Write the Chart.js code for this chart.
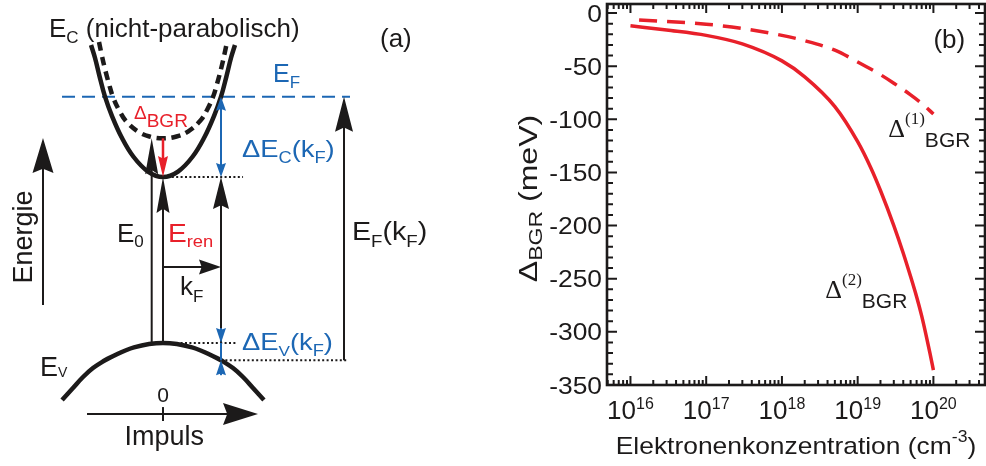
<!DOCTYPE html>
<html>
<head>
<meta charset="utf-8">
<script src="https://cdn.jsdelivr.net/npm/chart.js@4.4.1/dist/chart.umd.min.js"></script>
<style>
  html, body { margin: 0; padding: 0; background: #fff; }
  #wrap { position: relative; width: 986px; height: 466px; overflow: hidden; }
  #boxA { position: absolute; left: 0; top: 0; width: 480px; height: 466px; }
  #boxB { position: absolute; left: 480px; top: 0; width: 506px; height: 466px; }
</style>
</head>
<body>
<div id="wrap">
  <div id="boxA"><canvas id="bandChart"></canvas></div>
  <div id="boxB"><canvas id="bgrChart"></canvas></div>
</div>
<script>
const SANS = '"Liberation Sans", Arial, Helvetica, sans-serif';
const SERIF = '"Liberation Serif", "Times New Roman", serif';
const INK = '#1c1a1a';
const RED = '#e8202a';
const BLUE = '#1c67b4';

// ---- panel (a): band scheme, k in units of k_F, E in units of E_ren ----
const ecRenK = [0, 0.259, 0.509, 0.716, 0.879, 1.0, 1.095, 1.172, 1.241];
const ecRenE = [1.0, 1.033, 1.122, 1.241, 1.367, 1.484, 1.608, 1.717, 1.795];
const ecBareK = [0, 0.233, 0.431, 0.638, 0.759, 0.862, 0.931, 1.009, 1.060, 1.103];
const ecBareE = [1.233, 1.244, 1.274, 1.337, 1.404, 1.482, 1.560, 1.663, 1.741, 1.813];
const evK = [0, 0.5, 0.914, 1.0, 1.207, 1.379, 1.552, 1.74];
const evE = [0, -0.026, -0.088, -0.104, -0.151, -0.205, -0.271, -0.343];

const kF = 1.0;
const E_ren = 1.0;      // renormalised gap
const E_0 = 1.233;      // unrenormalised gap
const E_F = 1.484;      // Fermi level
const E_VkF = -0.104;   // valence band at k_F

// ---- panel (b): band-gap renormalisation vs. electron density ----
const bgr2N = [1e16, 3e16, 1e17, 3e17, 1e18, 2e18, 5e18, 1e19, 1.5e19, 2e19, 3e19, 4e19, 5e19, 6e19, 7e19, 8e19, 9e19, 1e20];
const bgr2Shift = [-12, -16, -21, -29, -45, -60, -88, -121, -146, -167, -200, -226, -248, -267, -285, -303, -320, -336];
const bgr1N = [1.3e16, 1e17, 3e17, 1e18, 2e18, 5e18, 1e19, 2e19, 3e19, 5e19, 7e19, 1e20];
const bgr1Shift = [-6.6, -10.5, -14.5, -21, -26, -35, -46, -58, -66, -77, -85, -95];
const decadeExps = [16, 17, 18, 19, 20];
const shiftLabels = [0, -50, -100, -150, -200, -250, -300, -350];

Chart.defaults.font.family = SANS;
Chart.defaults.color = INK;

function mirror(ks, es) {
  const pts = [];
  for (let i = ks.length - 1; i > 0; i--) pts.push({x: -ks[i], y: es[i]});
  ks.forEach((k, i) => pts.push({x: k, y: es[i]}));
  return pts;
}
function seg(x0, y0, x1, y1) { return [{x: x0, y: y0}, {x: x1, y: y1}]; }

// text made of runs: [text, size, dy, serif]; sx widens the glyphs
function rich(ctx, x, y, parts, color, align, sx) {
  sx = sx || 1;
  let w = 0;
  parts.forEach(p => { ctx.font = p[1] + 'px ' + (p[3] ? SERIF : SANS); w += ctx.measureText(p[0]).width * sx; });
  let cx = align === 'center' ? x - w / 2 : (align === 'right' ? x - w : x);
  ctx.fillStyle = color;
  ctx.textAlign = 'left';
  ctx.textBaseline = 'alphabetic';
  parts.forEach(p => {
    ctx.font = p[1] + 'px ' + (p[3] ? SERIF : SANS);
    ctx.save();
    ctx.translate(cx, y + (p[2] || 0));
    ctx.scale(sx, 1);
    ctx.fillText(p[0], 0, 0);
    ctx.restore();
    cx += ctx.measureText(p[0]).width * sx;
  });
  return w;
}

function head(ctx, tx, ty, dx, dy, len, wid, color) {
  const n = Math.hypot(dx, dy); dx /= n; dy /= n;
  const bx = tx - dx * len, by = ty - dy * len;
  const nx = -dy, ny = dx;
  ctx.fillStyle = color;
  ctx.beginPath();
  ctx.moveTo(tx, ty);
  ctx.lineTo(bx + nx * wid / 2, by + ny * wid / 2);
  ctx.lineTo(tx - dx * len * 0.88, ty - dy * len * 0.88);
  ctx.lineTo(bx - nx * wid / 2, by - ny * wid / 2);
  ctx.closePath();
  ctx.fill();
}

// arrows of panel (a): from, to (in k/E), colour, line width, head length, head width, both ends
const bandArrows = [
  {from: [-2.069, 0.229], to: [-2.069, 1.235], c: INK, lw: 2, hl: 35, hw: 21},
  {from: [-0.195, 0], to: [-0.195, E_0], c: INK, lw: 2, hl: 36, hw: 13},
  {from: [0, 0], to: [0, E_ren], c: INK, lw: 2, hl: 36, hw: 13},
  {from: [kF, 0], to: [kF, E_ren], c: INK, lw: 2, hl: 32, hw: 16},
  {from: [3.121, E_VkF], to: [3.121, E_F], c: INK, lw: 2, hl: 35, hw: 18},
  {from: [0, 0.458], to: [kF, 0.458], c: INK, lw: 2, hl: 22, hw: 15},
  {from: [-1.31, -0.428], to: [1.638, -0.428], c: INK, lw: 2, hl: 35, hw: 22},
  {from: [0, E_0], to: [0, E_ren], c: RED, lw: 2.5, hl: 21, hw: 10},
  {from: [kF, E_ren], to: [kF, E_F], c: BLUE, lw: 2, hl: 14, hw: 10, both: true},
  {from: [kF, 0.09], to: [kF, 0], c: BLUE, lw: 2, hl: 15, hw: 10},
  {from: [kF, E_VkF - 0.09], to: [kF, E_VkF], c: BLUE, lw: 2, hl: 15, hw: 10}
];

const bandLabels = [
  {at: [-1.966, 1.843], c: INK, parts: [['E', 26], ['C', 17, 6], [' (nicht-parabolisch)', 26]]},
  {at: [3.741, 1.786], c: INK, parts: [['(a)', 26]]},
  {at: [1.897, 1.572], c: BLUE, parts: [['E', 25], ['F', 17, 6]]},
  {at: [-0.5, 1.352], c: RED, parts: [['\u0394', 19], ['BGR', 19, 8]]},
  {at: [1.362, 1.120], c: BLUE, parts: [['\u0394E', 24], ['C', 16, 6], ['(k', 24], ['F', 16, 6], [')', 24]], sx: 1.14},
  {at: [1.362, -0.042], c: BLUE, parts: [['\u0394E', 24], ['V', 15, 6], ['(k', 24], ['F', 16, 6], [')', 24]], sx: 1.14},
  {at: [3.259, 0.620], c: INK, parts: [['E', 26], ['F', 17, 7], ['(k', 26], ['F', 17, 7], [')', 26]], sx: 1.1},
  {at: [-0.793, 0.608], c: INK, parts: [['E', 26], ['0', 17, 5]]},
  {at: [0.086, 0.608], c: RED, parts: [['E', 26], ['ren', 17, 5]], sx: 1.08},
  {at: [0.293, 0.289], c: INK, parts: [['k', 26], ['F', 17, 7]]},
  {at: [-2.121, -0.199], c: INK, parts: [['E', 27], ['V', 14, 1]]},
  {at: [0, -0.355], c: INK, parts: [['0', 21]], align: 'center'},
  {at: [0.02, -0.614], c: INK, parts: [['Impuls', 27]], align: 'center'}
];

const bandOverlay = {
  id: 'bandOverlay',
  afterDatasetsDraw(chart) {
    const {ctx, scales: {x, y}} = chart;
    const px = k => x.getPixelForValue(k), py = e => y.getPixelForValue(e);
    ctx.save();
    bandArrows.forEach(a => {
      const x0 = px(a.from[0]), y0 = py(a.from[1]), x1 = px(a.to[0]), y1 = py(a.to[1]);
      const dx = x1 - x0, dy = y1 - y0, n = Math.hypot(dx, dy);
      const sh = a.hl * 0.6 / n;
      ctx.strokeStyle = a.c; ctx.lineWidth = a.lw; ctx.lineCap = 'butt';
      ctx.beginPath();
      ctx.moveTo(a.both ? x0 + dx * sh : x0, a.both ? y0 + dy * sh : y0);
      ctx.lineTo(x1 - dx * sh, y1 - dy * sh);
      ctx.stroke();
      head(ctx, x1, y1, dx, dy, a.hl, a.hw, a.c);
      if (a.both) head(ctx, x0, y0, -dx, -dy, a.hl, a.hw, a.c);
    });
    // ΔE_V span between the two inward heads
    ctx.strokeStyle = BLUE; ctx.lineWidth = 2;
    ctx.beginPath(); ctx.moveTo(px(kF), py(0)); ctx.lineTo(px(kF), py(E_VkF)); ctx.stroke();
    // zero mark on the momentum axis
    ctx.strokeStyle = INK; ctx.lineWidth = 2;
    ctx.beginPath(); ctx.moveTo(px(0), py(-0.386)); ctx.lineTo(px(0), py(-0.470)); ctx.stroke();

    bandLabels.forEach(l => rich(ctx, px(l.at[0]), py(l.at[1]), l.parts, l.c, l.align, l.sx));
    ctx.translate(px(-2.259), py(0.639));
    ctx.rotate(-Math.PI / 2);
    rich(ctx, 0, 0, [['Energie', 27]], INK, 'center');
    ctx.restore();
  }
};

const curve = {showLine: true, pointRadius: 0, borderColor: INK, borderWidth: 4.5, tension: 0.4, fill: false};
const straight = {showLine: true, pointRadius: 0, tension: 0, fill: false};

new Chart(document.getElementById('bandChart'), {
  type: 'scatter',
  data: {
    datasets: [
      {...curve, data: mirror(ecBareK, ecBareE), borderDash: [9, 6]},
      {...curve, data: mirror(ecRenK, ecRenE)},
      {...curve, data: mirror(evK, evE)},
      {...straight, data: seg(-1.741, E_F, 3.224, E_F), borderColor: BLUE, borderWidth: 2, borderDash: [13, 7]},
      {...straight, data: seg(0, E_ren, 1.38, E_ren), borderColor: INK, borderWidth: 2, borderDash: [2, 2.4]},
      {...straight, data: seg(0, 0, 1.28, 0), borderColor: INK, borderWidth: 2, borderDash: [2, 2.4]},
      {...straight, data: seg(kF, E_VkF, 3.19, E_VkF), borderColor: INK, borderWidth: 2, borderDash: [2, 2.4]}
    ]
  },
  options: {
    responsive: true, maintainAspectRatio: false, animation: false, devicePixelRatio: 1,
    layout: {padding: 0},
    plugins: {legend: {display: false}, tooltip: {enabled: false}},
    scales: {
      x: {type: 'linear', display: false, min: -2.8103, max: 5.4655},
      y: {type: 'linear', display: false, min: -0.741, max: 2.0663}
    }
  },
  plugins: [bandOverlay]
});

// ---- panel (b) ----
const bgrFrame = {
  id: 'bgrFrame',
  afterDraw(chart) {
    const {ctx, chartArea: a, scales: {x, y}} = chart;
    ctx.save();
    ctx.strokeStyle = INK; ctx.lineWidth = 2;
    ctx.beginPath();
    x.ticks.forEach(t => {
      const p = x.getPixelForValue(t.value), len = t.major ? 9 : 5;
      ctx.moveTo(p, a.bottom); ctx.lineTo(p, a.bottom - len);
      ctx.moveTo(p, a.top); ctx.lineTo(p, a.top + len);
    });
    y.ticks.forEach(t => {
      const p = y.getPixelForValue(t.value), len = t.value % 50 === 0 ? 10 : 6;
      ctx.moveTo(a.left, p); ctx.lineTo(a.left + len, p);
      ctx.moveTo(a.right, p); ctx.lineTo(a.right - len, p);
    });
    ctx.stroke();
    ctx.lineWidth = 2.6;
    ctx.strokeRect(a.left, a.top, a.right - a.left, a.bottom - a.top);

    shiftLabels.forEach(v => rich(ctx, a.left - 5, y.getPixelForValue(v) + 8.5, [[String(v), 24]], INK, 'right', 1.1));
    decadeExps.forEach(e => rich(ctx, x.getPixelForValue(Math.pow(10, e)), a.bottom + 34,
      [['10', 26], [String(e), 16, -10]], INK, 'center'));

    rich(ctx, (a.left + a.right) / 2, a.bottom + 69,
      [['Elektronenkonzentration (cm', 24], ['-3', 16, -12], [')', 24]], INK, 'center', 1.1);

    ctx.save();
    ctx.translate(57, (a.top + a.bottom) / 2 + 4);
    ctx.rotate(-Math.PI / 2);
    rich(ctx, 0, 0, [['\u0394', 25], ['BGR', 18, 5], [' (meV)', 25]], INK, 'center', 1.28);
    ctx.restore();

    const lx = n => x.getPixelForValue(n), ly = v => y.getPixelForValue(v);
    rich(ctx, lx(1e20), ly(-33), [['(b)', 26]], INK);
    rich(ctx, lx(2.54e19), ly(-117), [['\u0394', 26, 0, true], ['(1)', 17, -13, true], ['BGR', 21, 10]], INK);
    rich(ctx, lx(3.74e18), ly(-268), [['\u0394', 26, 0, true], ['(2)', 17, -13, true], ['BGR', 21, 10]], INK);
    ctx.restore();
  }
};

new Chart(document.getElementById('bgrChart'), {
  type: 'scatter',
  data: {
    datasets: [
      {data: bgr2N.map((n, i) => ({x: n, y: bgr2Shift[i]})), showLine: true, pointRadius: 0,
       borderColor: RED, borderWidth: 3.5, cubicInterpolationMode: 'monotone'},
      {data: bgr1N.map((n, i) => ({x: n, y: bgr1Shift[i]})), showLine: true, pointRadius: 0,
       borderColor: RED, borderWidth: 3.5, borderDash: [18, 10], cubicInterpolationMode: 'monotone'}
    ]
  },
  options: {
    responsive: true, maintainAspectRatio: false, animation: false, devicePixelRatio: 1,
    layout: {padding: {left: 0, right: 1, top: 4, bottom: 0}},
    plugins: {legend: {display: false}, tooltip: {enabled: false}},
    scales: {
      x: {
        type: 'logarithmic', min: 4.9e15, max: 4.8e20,
        grid: {display: false, drawTicks: false}, border: {display: false},
        ticks: {display: false},
        afterBuildTicks: s => {
          const out = [];
          for (let e = 15; e <= 20; e++) for (let m = 1; m <= 9; m++) {
            const v = m * Math.pow(10, e);
            if (v >= s.min && v <= s.max) out.push({value: v, major: m === 1});
          }
          s.ticks = out;
        },
        afterFit: s => { s.height = 81; }
      },
      y: {
        type: 'linear', min: -350, max: 8.5,
        grid: {display: false, drawTicks: false}, border: {display: false},
        ticks: {display: false},
        afterBuildTicks: s => {
          const out = [];
          for (let v = -350; v <= 0; v += 10) out.push({value: v});
          s.ticks = out;
        },
        afterFit: s => { s.width = 127; }
      }
    }
  },
  plugins: [bgrFrame]
});
</script>
</body>
</html>
